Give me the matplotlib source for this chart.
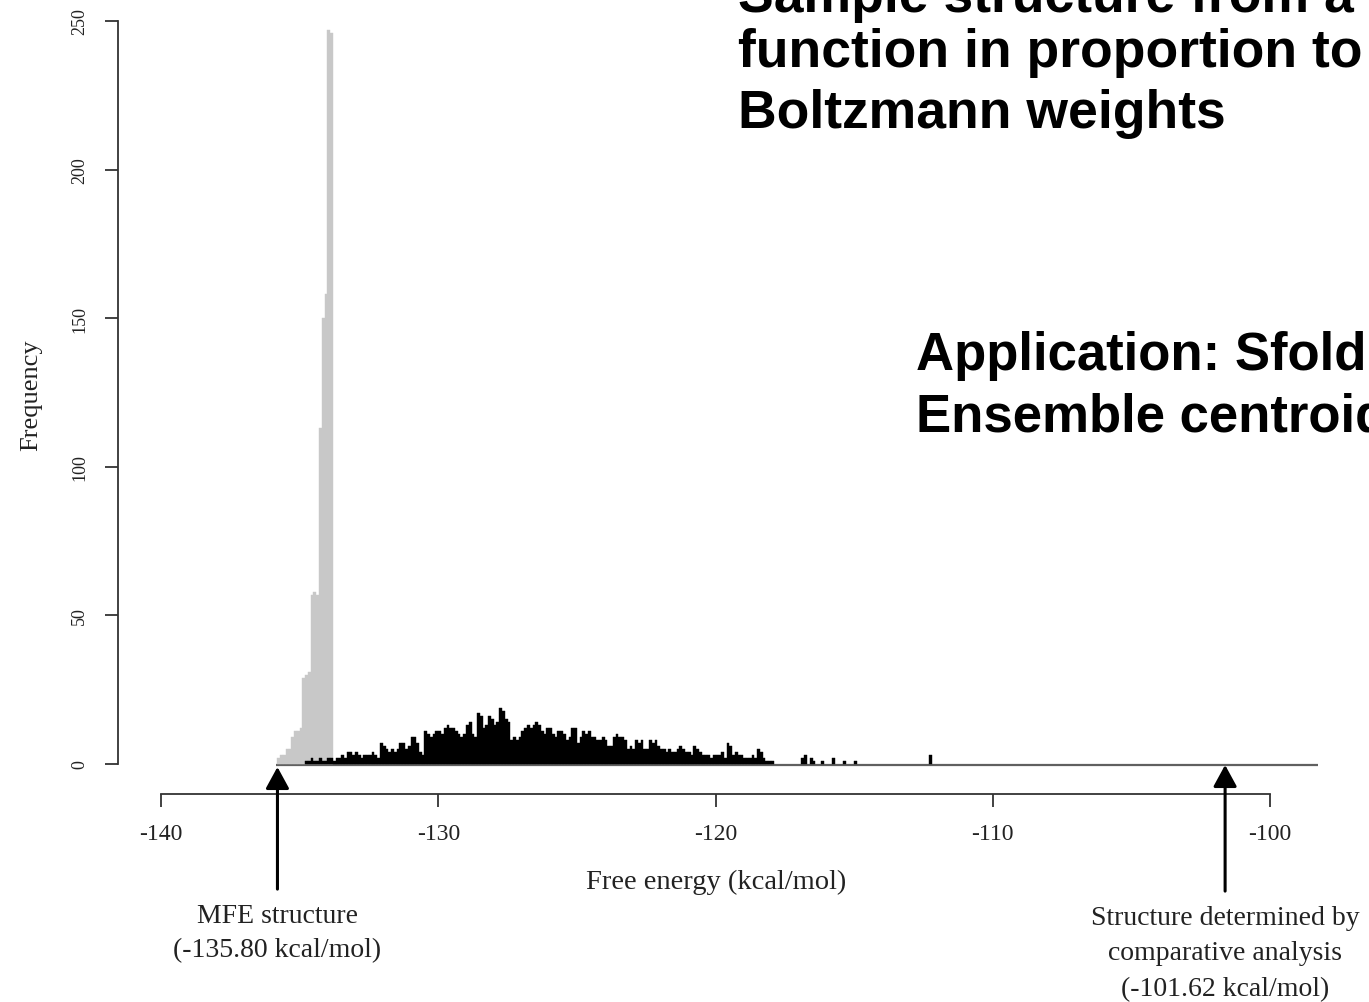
import numpy as np
import matplotlib
matplotlib.use("Agg")
import matplotlib.pyplot as plt

# ---------------- data ----------------
bin_width = 0.1

# grey histogram (sampled structures close to the MFE)
grey_first_bin = -135.8
grey_counts = [2, 3, 3, 5, 5, 9, 11, 11, 12, 29, 30, 31, 57, 58, 57, 113, 150, 158, 247, 246]

# black histogram (main sample)
black_first_bin = -134.8
black_counts = [
    1, 1, 2, 1, 1, 2, 1, 1, 2, 2, 1, 2, 2, 3, 2, 4, 4, 3, 4, 3,
    2, 3, 3, 3, 4, 3, 2, 7, 6, 5, 4, 5, 4, 5, 7, 7, 5, 6, 9, 9,
    7, 4, 3, 11, 10, 9, 10, 11, 11, 10, 12, 13, 12, 12, 11, 10, 9, 10, 13, 14,
    10, 9, 17, 16, 12, 13, 16, 15, 13, 14, 19, 18, 15, 14, 8, 9, 8, 9, 11, 12,
    13, 12, 13, 14, 13, 11, 10, 12, 12, 10, 9, 11, 11, 10, 8, 9, 12, 12, 7, 9,
    11, 10, 11, 9, 9, 8, 8, 9, 8, 6, 6, 9, 10, 9, 9, 8, 5, 6, 5, 8,
    7, 8, 5, 5, 8, 7, 8, 6, 5, 5, 4, 5, 4, 4, 5, 6, 5, 4, 4, 3,
    6, 5, 4, 3, 3, 3, 2, 3, 3, 3, 4, 2, 7, 6, 3, 4, 3, 3, 2, 2,
    2, 3, 2, 5, 4, 2, 1, 1, 1,
]
# sparse tail of the black histogram
tail_bins = [-116.9, -116.8, -116.6, -116.5, -116.2, -115.8, -115.4, -115.0, -112.3]
tail_counts = [2, 3, 2, 1, 1, 2, 1, 1, 3]

x_ticks = [-140, -130, -120, -110, -100]
y_ticks = [0, 50, 100, 150, 200, 250]

mfe_energy = -135.80
comparative_energy = -101.62
baseline_end = -98.27

title_lines = ["Sample structure from a",
               "function in proportion to",
               "Boltzmann weights"]
app_lines = ["Application: Sfold",
             "Ensemble centroid"]

# ---------------- figure ----------------
W, H = 1369, 1003
fig = plt.figure(figsize=(W / 100, H / 100), dpi=100)
ax = fig.add_axes([0, 0, 1, 1])
ax.set_xlim(-145.807, -96.43)
ax.set_ylim(-80.08, 257.4)
ax.patch.set_alpha(0)

serif = "Liberation Serif"

grey_lefts = np.round(grey_first_bin + bin_width * np.arange(len(grey_counts)), 2)
black_lefts = np.round(black_first_bin + bin_width * np.arange(len(black_counts)), 2)

ax.bar(grey_lefts, grey_counts, width=bin_width, align="edge",
       color="#c8c8c8", edgecolor="#c8c8c8", linewidth=0.3, zorder=2)
ax.bar(black_lefts, black_counts, width=bin_width, align="edge",
       color="black", edgecolor="black", linewidth=0.3, zorder=3)
ax.bar(tail_bins, tail_counts, width=bin_width, align="edge",
       color="black", edgecolor="black", linewidth=0.3, zorder=3)

# baseline of histogram
ax.plot([grey_first_bin - 0.05, baseline_end], [-0.3, -0.3], color="#606060",
        lw=1.6, zorder=1, solid_capstyle="butt")

# spines / axes (R-like detached axes)
for s in ["top", "right"]:
    ax.spines[s].set_visible(False)
ax.spines["left"].set_position(("data", -141.55))
ax.spines["left"].set_bounds(0, 250)
ax.spines["bottom"].set_position(("data", -10.09))
ax.spines["bottom"].set_bounds(-140, -100)
for s in ["left", "bottom"]:
    ax.spines[s].set_linewidth(1.3)
    ax.spines[s].set_color("#333333")

ax.set_xticks(x_ticks)
ax.set_xticklabels([str(t) for t in x_ticks], fontfamily=serif, fontsize=17)
ax.set_yticks(y_ticks)
ax.set_yticklabels([str(t) for t in y_ticks], fontfamily=serif, fontsize=13)
ax.tick_params(axis="x", direction="out", length=9.4, width=1.3, pad=11.5,
               colors="#333333", labelcolor="#222222")
ax.tick_params(axis="y", direction="out", length=9.4, width=1.3, pad=12,
               colors="#333333", labelcolor="#222222", labelrotation=90)
for lab in ax.get_yticklabels():
    lab.set_verticalalignment("center")

ax.set_xlabel("Free energy (kcal/mol)", fontfamily=serif, fontsize=20.5, color="#222222")
ax.xaxis.set_label_coords(716 / W, 1 - 870 / H)
ax.set_ylabel("Frequency", fontfamily=serif, fontsize=19, color="#222222")
ax.yaxis.set_label_coords(42 / W, 1 - 395 / H)

# arrows + annotations
def py(px):
    return (765 - px) / 2.972

arrow_kw = dict(arrowstyle="-|>,head_length=0.55,head_width=0.3", color="black",
                lw=2.2, mutation_scale=24, shrinkA=8, shrinkB=0)
ax.annotate("MFE structure\n(-135.80 kcal/mol)", xy=(mfe_energy, py(768)),
            xytext=(mfe_energy, py(904)), ha="center", va="top",
            fontfamily=serif, fontsize=20, color="#222222", linespacing=1.5,
            arrowprops=arrow_kw)
ax.annotate("Structure determined by\ncomparative analysis\n(-101.62 kcal/mol)",
            xy=(comparative_energy, py(766)),
            xytext=(comparative_energy, py(906)), ha="center", va="top",
            fontfamily=serif, fontsize=20, color="#222222", linespacing=1.55,
            arrowprops=arrow_kw)

# slide text (clipped at the figure edge like in the reference)
sans = "Liberation Sans"
title_baselines = [12, 67, 128]
for line, base in zip(title_lines, title_baselines):
    fig.text(738 / W, 1 - base / H, line, fontfamily=sans,
             fontweight="bold", fontsize=38.5, ha="left", va="baseline", color="black")
for i, line in enumerate(app_lines):
    fig.text(916 / W, 1 - (370 + 62 * i) / H, line, fontfamily=sans,
             fontweight="bold", fontsize=38, ha="left", va="baseline", color="black")

fig.savefig("out.png", dpi=100)
